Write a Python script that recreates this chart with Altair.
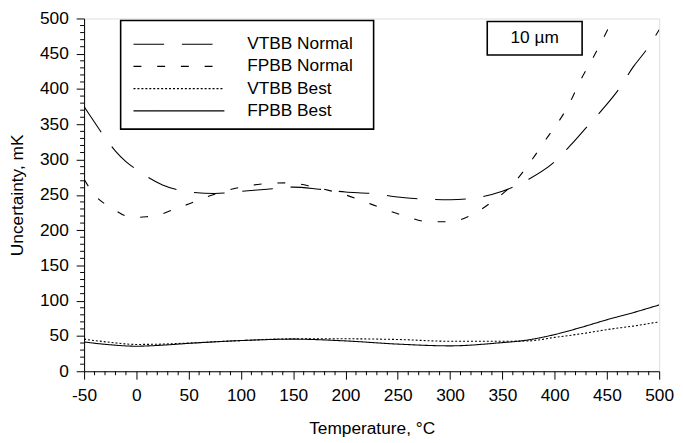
import altair as alt
import pandas as pd

# ---------------- data ----------------
series_names = ["VTBB Normal", "FPBB Normal", "VTBB Best", "FPBB Best"]

vtbb_normal_t = [-50, -40, -30, -20, -10, 0, 10, 25, 40, 50, 75, 100, 125, 150, 175, 200, 225, 250, 275, 300, 325, 350, 375, 400, 415, 430, 448, 462, 475, 488, 500]
vtbb_normal_u = [375, 353, 331, 312, 297, 286, 276, 264, 257, 254, 252, 255, 258, 261, 258, 254, 252, 247, 244, 243, 246, 255, 272, 297, 320, 345, 375, 401, 431, 456, 484]

fpbb_normal_t = [-50, -40, -30, -20, -10, 0, 10, 20, 35, 50, 75, 100, 125, 145, 170, 185, 200, 217, 235, 255, 280, 300, 320, 340, 360, 375, 390, 414, 425, 437, 449, 455]
fpbb_normal_u = [272, 250, 237, 228, 220, 218, 219, 221, 229, 237, 251, 261, 266, 267, 261, 256, 250, 241, 231, 221, 212, 212, 221, 240, 265, 293, 325, 379, 413, 445, 479, 497]

vtbb_best_t = [-50, -25, 0, 25, 50, 100, 150, 200, 250, 300, 350, 375, 400, 425, 450, 475, 500]
vtbb_best_u = [45.5, 41, 38, 38.5, 40, 43.5, 46, 46, 45, 42.5, 42.5, 43, 48, 53, 59, 64, 70]

fpbb_best_t = [-50, -25, 0, 25, 50, 100, 150, 200, 250, 300, 345, 375, 400, 425, 450, 475, 500]
fpbb_best_u = [41.5, 37.5, 35.5, 37, 39.5, 43.5, 45.5, 43, 38.5, 36, 40, 44.5, 52, 62, 73, 83, 94]

x_major = [-50, 0, 50, 100, 150, 200, 250, 300, 350, 400, 450, 500]
y_major = [0, 50, 100, 150, 200, 250, 300, 350, 400, 450, 500]
x_minor = [v for v in range(-50, 501, 10) if v % 50 != 0]
y_minor = [v for v in range(0, 501, 10) if v % 50 != 0]

annotation_label = "10 µm"

# ---------------- build table ----------------
rows = []
for name, ts, us in [
    (series_names[0], vtbb_normal_t, vtbb_normal_u),
    (series_names[1], fpbb_normal_t, fpbb_normal_u),
    (series_names[2], vtbb_best_t, vtbb_best_u),
    (series_names[3], fpbb_best_t, fpbb_best_u),
]:
    for t, u in zip(ts, us):
        rows.append({"series": name, "T": t, "U": u})
df = pd.DataFrame(rows)

W, H = 582, 357
FONT = "Liberation Sans"
FS = 17.5
dashes = [[31, 18], [8, 16], [2, 2], [1, 0]]

xscale = alt.Scale(domain=[-50, 500], nice=False, zero=False)
yscale = alt.Scale(domain=[0, 500], nice=False, zero=False)

common_axis = dict(
    tickSize=8, labelFontSize=FS, titleFontSize=FS, labelFont=FONT, titleFont=FONT,
    titleFontWeight="normal", labelColor="black", titleColor="black",
    domainColor="black", tickColor="black", grid=False, labelFlush=False,
    labelOverlap=False, labelExpr="'' + datum.value",
)
x_axis = alt.Axis(values=x_major, title="Temperature, °C", labelPadding=8, titlePadding=15, **common_axis)
y_axis = alt.Axis(values=y_major, title="Uncertainty, mK", labelPadding=8, titlePadding=13, **common_axis)

lines = alt.Chart(df).mark_line(
    color="black", strokeWidth=1.1, interpolate="monotone", clip=True
).encode(
    x=alt.X("T:Q", scale=xscale, axis=x_axis),
    y=alt.Y("U:Q", scale=yscale, axis=y_axis),
    strokeDash=alt.StrokeDash("series:N", scale=alt.Scale(domain=series_names, range=dashes), legend=None),
    detail="series:N",
)

# minor ticks
xminor_df = pd.DataFrame({"T": x_minor})
yminor_df = pd.DataFrame({"U": y_minor})
xminor = alt.Chart(xminor_df).mark_rule(color="black", strokeWidth=1).encode(
    x=alt.X("T:Q", scale=xscale, axis=x_axis), y=alt.value(H), y2=alt.value(H + 4))
yminor = alt.Chart(yminor_df).mark_rule(color="black", strokeWidth=1).encode(
    y=alt.Y("U:Q", scale=yscale, axis=y_axis), x=alt.value(0), x2=alt.value(-4))

# legend box
one = pd.DataFrame({"a": [0]})
legend_box = alt.Chart(one).mark_rect(fill="white", stroke="black", strokeWidth=1.6).encode(
    x=alt.value(37), x2=alt.value(293), y=alt.value(2), y2=alt.value(112))

legend_layers = []
for i, name in enumerate(series_names):
    yy = 26 + i * 22.5
    legend_layers.append(
        alt.Chart(one).mark_rule(color="black", strokeWidth=1.1, strokeDash=dashes[i]).encode(
            x=alt.value(50), x2=alt.value(142), y=alt.value(yy)))
    legend_layers.append(
        alt.Chart(pd.DataFrame({"label": [name]})).mark_text(
            align="left", baseline="middle", font=FONT, fontSize=FS, color="black").encode(
            x=alt.value(165), y=alt.value(yy), text="label:N"))

note_box = alt.Chart(one).mark_rect(fill="white", stroke="black", strokeWidth=1.6).encode(
    x=alt.value(408), x2=alt.value(504), y=alt.value(3), y2=alt.value(37))
note_text = alt.Chart(pd.DataFrame({"label": [annotation_label]})).mark_text(
    align="center", baseline="middle", font=FONT, fontSize=FS, color="black").encode(
    x=alt.value(456), y=alt.value(20), text="label:N")

chart = alt.layer(
    lines, xminor, yminor, legend_box, *legend_layers, note_box, note_text
).properties(
    width=W, height=H,
    padding={"left": 77, "top": 8, "right": 16, "bottom": 70},
    autosize=alt.AutoSizeParams(type="none"),
).configure_view(
    stroke="black", strokeWidth=1
).configure(background="white")

chart.save("out.html", embed_options={"renderer": "svg", "actions": False})
